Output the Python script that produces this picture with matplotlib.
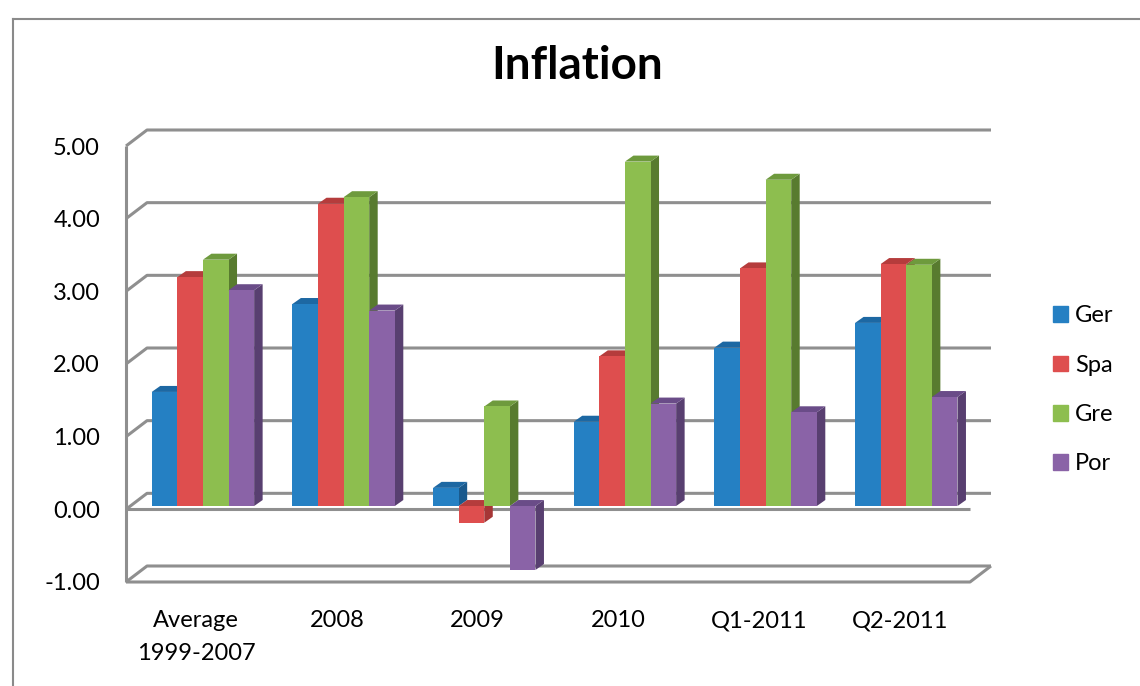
import matplotlib
matplotlib.use("Agg")
import matplotlib.pyplot as plt
from matplotlib.patches import Patch

plt.rcParams['font.family'] = ['Lato', 'DejaVu Sans']

categories = ['Average\n1999-2007', '2008', '2009', '2010', 'Q1-2011', 'Q2-2011']
series = ['Ger', 'Spa', 'Gre', 'Por']
ger = [1.57, 2.78, 0.25, 1.16, 2.18, 2.52]
spa = [3.15, 4.16, -0.23, 2.06, 3.27, 3.33]
gre = [3.39, 4.25, 1.37, 4.74, 4.49, 3.32]
por = [2.97, 2.69, -0.88, 1.41, 1.29, 1.50]
yticks = [-1, 0, 1, 2, 3, 4, 5]

# front / top / side shades for the fake 3d columns
front_c = ['#2580C3', '#DE4E4E', '#8DBE4F', '#8A63A7']
top_c = ['#1D68A3', '#B53C3C', '#6E9A3D', '#6A4C88']
side_c = ['#1A5A8D', '#A63636', '#587B2F', '#583F70']

W_PX, H_PX = 1140, 686
fig = plt.figure(figsize=(W_PX / 100, H_PX / 100), dpi=100)

# front plane of the plot box in pixels
L, R, T, B = 126, 970, 146, 582
ax = fig.add_axes([L / W_PX, (H_PX - B) / H_PX, (R - L) / W_PX, (B - T) / H_PX])
ax.set_xlim(-0.5, 5.5)
ax.set_ylim(-1, 5)

px_x = (R - L) / 6.0
px_y = (B - T) / 6.0
DX, DY = 21 / px_x, 16 / px_y          # depth of the whole box
BX, BY = 6.6 / px_x, 3.3 / px_y        # columns sit a bit into the box
BDX, BDY = 8.5 / px_x, 6 / px_y        # depth of a column
BW = 25.6 / px_x

grid = dict(color='#8f8f8f', lw=2.2, clip_on=False, zorder=1, solid_capstyle='butt')
x0, x1 = -0.5, 5.5
for v in yticks:
    ax.plot([x0, x0 + DX, x1 + DX], [v, v + DY, v + DY], **grid)
ax.plot([x0, x0], [-1, 5], **grid)
ax.plot([x0, x1], [0, 0], **grid)
ax.plot([x0, x1, x1 + DX], [-1, -1, -1 + DY], **grid)


def column(xl, v, k):
    lo, hi = BY + min(v, 0), BY + max(v, 0)
    xr = xl + BW
    ax.fill([xr, xr + BDX, xr + BDX, xr], [lo, lo + BDY, hi + BDY, hi],
            color=side_c[k], lw=0, zorder=2, clip_on=False)
    ax.fill([xl, xr, xr + BDX, xl + BDX], [hi, hi, hi + BDY, hi + BDY],
            color=top_c[k], lw=0, zorder=2, clip_on=False)
    ax.fill([xl, xr, xr, xl], [lo, lo, hi, hi],
            color=front_c[k], lw=0, zorder=2, clip_on=False)


data = [ger, spa, gre, por]
for i in range(len(categories)):
    for k, vals in enumerate(data):
        column(i + BX - 2 * BW + k * BW, vals[i], k)

for s in ax.spines.values():
    s.set_visible(False)
ax.set_yticks(yticks)
ax.set_yticklabels(['%.2f' % t for t in yticks], fontsize=17)
ax.set_xticks(range(len(categories)))
ax.set_xticklabels(categories, fontsize=17, linespacing=1.7)
ax.tick_params(axis='y', length=0, pad=18.7)
ax.tick_params(axis='x', length=0, pad=20.5)

handles = [Patch(color=c) for c in front_c]
fig.legend(handles, series, loc='center left',
           bbox_to_anchor=(1053 / W_PX, 1 - 390 / H_PX),
           frameon=False, fontsize=17, handlelength=0.64, handleheight=0.64,
           handletextpad=0.3, labelspacing=1.2, borderpad=0, borderaxespad=0)

fig.text(577 / W_PX, 1 - 79 / H_PX, 'Inflation', ha='center', va='baseline',
         fontsize=33, fontweight='bold')

# chart area border
fig.add_artist(plt.Line2D([13 / W_PX, 13 / W_PX], [0, 1 - 19 / H_PX], color='#8a8a8a', lw=1.5))
fig.add_artist(plt.Line2D([13 / W_PX, 1], [1 - 19 / H_PX, 1 - 19 / H_PX], color='#8a8a8a', lw=1.5))

fig.savefig('out.png', dpi=100)
